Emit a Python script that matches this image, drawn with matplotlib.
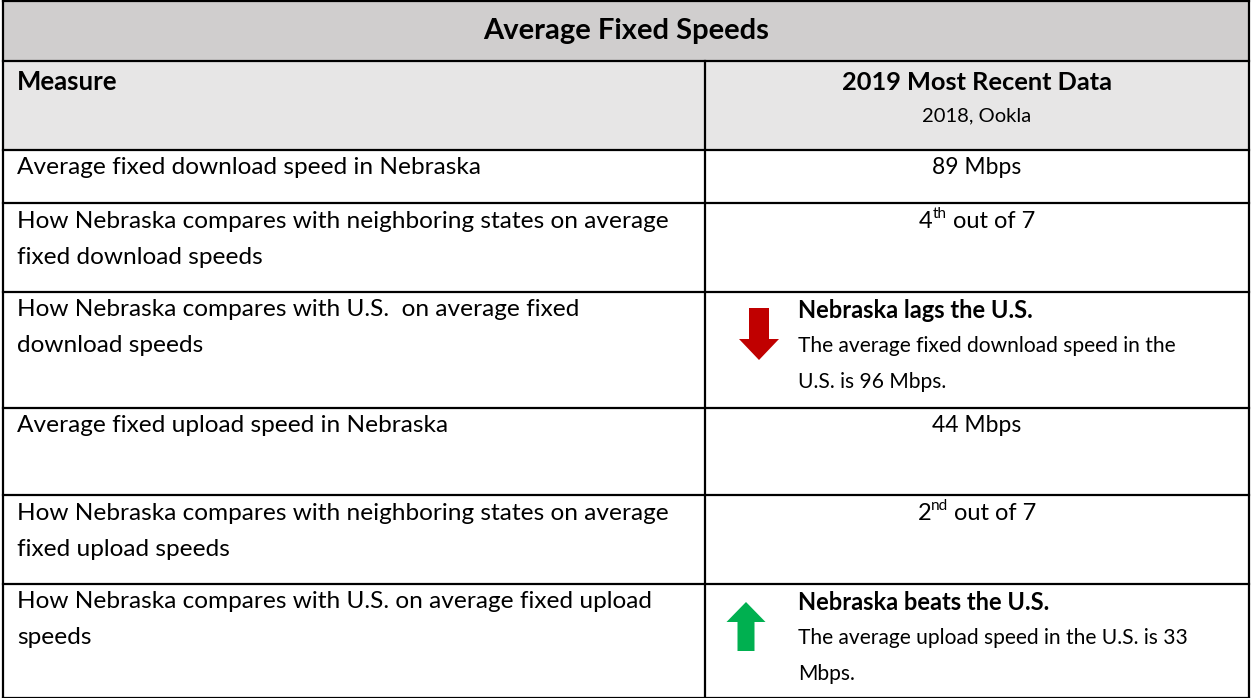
import matplotlib.pyplot as plt
from matplotlib.patches import Rectangle, FancyArrow

plt.rcParams['font.family'] = ['Lato', 'DejaVu Sans']

title = "Average Fixed Speeds"
col_heads = ["Measure", "2019 Most Recent Data"]
col_sub = "2018, Ookla"

measures = [
    ["Average fixed download speed in Nebraska"],
    ["How Nebraska compares with neighboring states on average",
     "fixed download speeds"],
    ["How Nebraska compares with U.S.  on average fixed",
     "download speeds"],
    ["Average fixed upload speed in Nebraska"],
    ["How Nebraska compares with neighboring states on average",
     "fixed upload speeds"],
    ["How Nebraska compares with U.S. on average fixed upload",
     "speeds"],
]
# value cells: plain text, rank (num, suffix, rest) or comparison
values = [
    ("text", "89 Mbps"),
    ("rank", ("4", "th", " out of 7")),
    ("cmp", ("down", "Nebraska lags the U.S.",
             ["The average fixed download speed in the", "U.S. is 96 Mbps."])),
    ("text", "44 Mbps"),
    ("rank", ("2", "nd", " out of 7")),
    ("cmp", ("up", "Nebraska beats the U.S.",
             ["The average upload speed in the U.S. is 33", "Mbps."])),
]

# layout (pixels)
W, H = 1251, 698
x_left, x_mid, x_right = 3, 705, 1249
row_lines = [1, 61, 150, 203, 292, 408, 495, 584, 698]
line_h = 36
fs = 17.6

fig = plt.figure(figsize=(W / 100, H / 100), dpi=100)
ax = fig.add_axes([0, 0, 1, 1])
ax.set_xlim(0, W)
ax.set_ylim(H, 0)
ax.axis('off')

# fills
ax.add_patch(Rectangle((x_left, row_lines[0]), x_right - x_left,
                       row_lines[1] - row_lines[0], color='#D0CECE', lw=0))
ax.add_patch(Rectangle((x_left, row_lines[1]), x_right - x_left,
                       row_lines[2] - row_lines[1], color='#E7E6E6', lw=0))

# grid lines
for y in row_lines:
    ax.plot([x_left, x_right], [y, y], color='black', lw=1.6,
            solid_capstyle='projecting')
ax.plot([x_left, x_left], [row_lines[0], row_lines[-1]], color='black', lw=1.6)
ax.plot([x_right, x_right], [row_lines[0], row_lines[-1]], color='black', lw=1.6)
ax.plot([x_mid, x_mid], [row_lines[1], row_lines[-1]], color='black', lw=1.6)

# title and header
ax.text((x_left + x_right) / 2, (row_lines[0] + row_lines[1]) / 2, title,
        ha='center', va='center', fontsize=21, fontweight='bold')
ax.text(x_left + 14, row_lines[1] + 21, col_heads[0], ha='left',
        va='center', fontsize=18.5, fontweight='bold')
cx = (x_mid + x_right) / 2
ax.text(cx, row_lines[1] + 21, col_heads[1], ha='center', va='center',
        fontsize=18.3, fontweight='bold')
ax.text(cx, row_lines[1] + 55, col_sub, ha='center', va='center',
        fontsize=14.5)

fig.canvas.draw()
renderer = fig.canvas.get_renderer()
inv = ax.transData.inverted()


def width_of(t):
    bb = t.get_window_extent(renderer)
    (x0, _), (x1, _) = inv.transform([[bb.x0, bb.y0], [bb.x1, bb.y1]])
    return x1 - x0


for i, (lines, (kind, val)) in enumerate(zip(measures, values)):
    top = row_lines[i + 2]
    y0 = top + 18
    for j, ln in enumerate(lines):
        ax.text(x_left + 14, y0 + j * line_h, ln, ha='left', va='center',
                fontsize=fs)
    if kind == "text":
        ax.text(cx, y0, val, ha='center', va='center', fontsize=16.5)
    elif kind == "rank":
        num, suf, rest = val
        t1 = ax.text(0, y0, num, ha='left', va='center', fontsize=17)
        t2 = ax.text(0, y0 - 7, suf, ha='left', va='center', fontsize=11)
        t3 = ax.text(0, y0, rest, ha='left', va='center', fontsize=17)
        w1, w2, w3 = width_of(t1), width_of(t2), width_of(t3)
        start = cx - (w1 + w2 + w3) / 2
        t1.set_x(start)
        t2.set_x(start + w1)
        t3.set_x(start + w1 + w2)
    else:
        direction, head, body = val
        tx = x_mid + 93
        ax.text(tx, y0, head, ha='left', va='center', fontsize=17,
                fontweight='bold')
        for j, ln in enumerate(body):
            ax.text(tx, y0 + (j + 1) * line_h, ln, ha='left', va='center',
                    fontsize=15.1)
        if direction == "down":
            ax.add_patch(FancyArrow(x_mid + 54, top + 16, 0, 52, width=20,
                                    head_width=40, head_length=21,
                                    length_includes_head=True,
                                    color='#C00000', lw=0))
        else:
            ax.add_patch(FancyArrow(x_mid + 41, top + 67, 0, -49, width=17,
                                    head_width=39, head_length=20,
                                    length_includes_head=True,
                                    color='#00B050', lw=0))

fig.savefig("out.png", dpi=100)
